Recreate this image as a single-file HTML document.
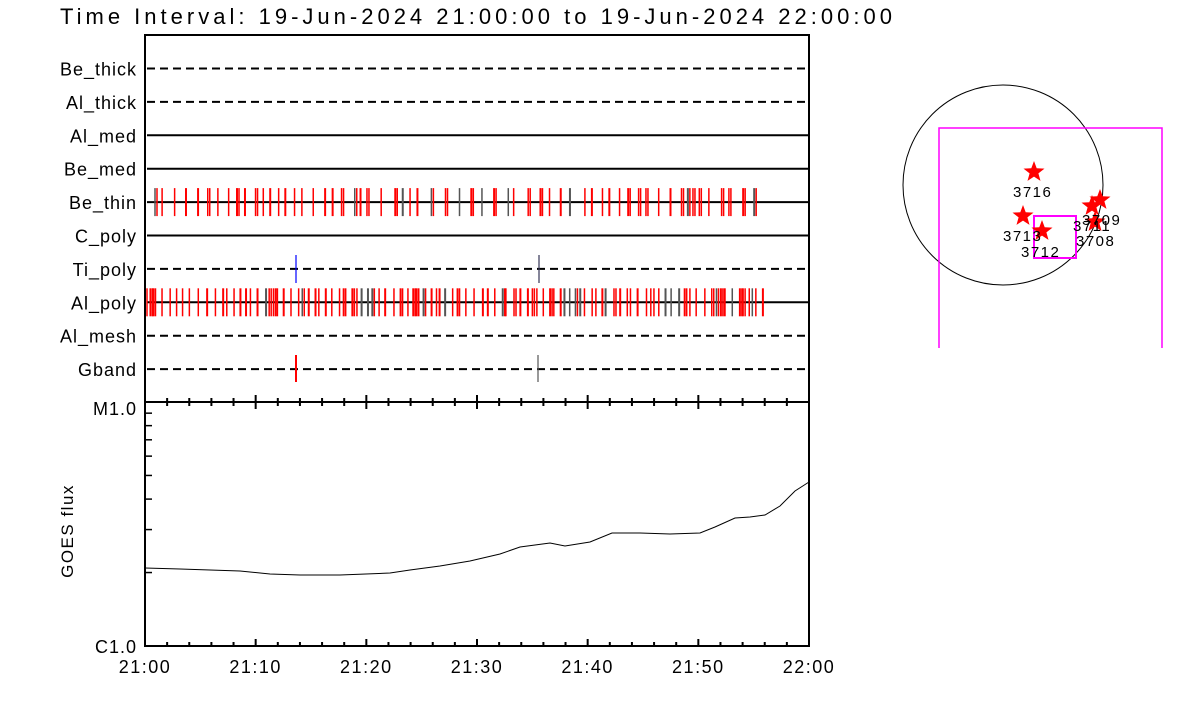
<!DOCTYPE html>
<html><head><style>
body{margin:0;background:#fff;width:1200px;height:700px;overflow:hidden}
text{font-family:"Liberation Sans",sans-serif}
</style></head><body>
<svg id="s" width="1200" height="700" xmlns="http://www.w3.org/2000/svg">
<text x="60" y="24" font-size="22" textLength="832" lengthAdjust="spacing">Time Interval: 19-Jun-2024 21:00:00 to 19-Jun-2024 22:00:00</text>
<rect x="145" y="35" width="664" height="611" fill="none" stroke="#000" stroke-width="2"/>
<line x1="145" y1="402" x2="809" y2="402" stroke="#000" stroke-width="2"/>
<g id="rows"></g>
<g id="tk"></g>
<text x="137" y="415" font-size="18" text-anchor="end" letter-spacing="1">M1.0</text>
<text x="137" y="653" font-size="18" text-anchor="end" letter-spacing="1">C1.0</text>
<text transform="translate(73,531) rotate(-90)" font-size="17" text-anchor="middle" letter-spacing="1.5">GOES flux</text>
<polyline fill="none" stroke="#000" stroke-width="1" points="145,568 180,569 240,571 270,574 300,575 340,575 390,573 410,570 440,566 470,561 500,554 520,547 550,543 565,546 590,542 612,533 640,533 670,534 700,533 715,527 735,518 750,517 765,515 780,506 795,491 809,482"/>
<circle cx="1003" cy="185" r="100" fill="none" stroke="#000" stroke-width="1"/>
<polyline points="939,348 939,128 1162,128 1162,348" fill="none" stroke="#f0f" stroke-width="1.5"/>
<rect x="1034" y="216" width="42" height="42" fill="none" stroke="#f0f" stroke-width="2"/>
<g id="map"></g>
</svg>
<script>
var s='http://www.w3.org/2000/svg';
function el(p,t,a,tx){var e=document.createElementNS(s,t);for(var k in a)e.setAttribute(k,a[k]);if(tx)e.textContent=tx;document.getElementById(p).appendChild(e);return e;}
var names=['Be_thick','Al_thick','Al_med','Be_med','Be_thin','C_poly','Ti_poly','Al_poly','Al_mesh','Gband'];
var dash=[1,1,0,0,0,0,1,0,1,1];
for(var i=0;i<10;i++){var y=68.5+i*33.4;
el('rows','text',{x:137,y:y+7,'font-size':18,'text-anchor':'end','letter-spacing':1},names[i]);
var a={x1:147,y1:y,x2:809,y2:y,stroke:'#000','stroke-width':2};if(dash[i])a['stroke-dasharray']='8,5';el('rows','line',a);}
var seed=7;function r(){seed=(seed*16807)%2147483647;return seed/2147483647;}
function bars(y,x0,x1,step,h){for(var x=x0;x<x1;x+=step*(0.5+r())){var c=r()<0.2?'#555':'red';el('rows','line',{x1:x,y1:y-h,x2:x,y2:y+h,stroke:c,'stroke-width':r()<0.4?2:1.5});if(r()<0.3){el('rows','line',{x1:x+2,y1:y-h,x2:x+2,y2:y+h,stroke:'red','stroke-width':1.5});}}}
bars(202.1,155,762,10,14);bars(302.3,147,766,6,14);
el('rows','line',{x1:296,y1:255,x2:296,y2:283,stroke:'blue','stroke-width':1.2});
el('rows','line',{x1:539,y1:255,x2:539,y2:283,stroke:'#335','stroke-width':1.2});
el('rows','line',{x1:296,y1:355,x2:296,y2:382,stroke:'red','stroke-width':2});
el('rows','line',{x1:538,y1:355,x2:538,y2:382,stroke:'#555','stroke-width':1.2});
for(var m=0;m<=30;m++){var x=145+m*664/30;var big=m%5==0;var h=big?7:4;
el('tk','line',{x1:x,y1:646-h,x2:x,y2:646,stroke:'#000','stroke-width':2});
el('tk','line',{x1:x,y1:402-h,x2:x,y2:402+h,stroke:'#000','stroke-width':2});
if(big)el('tk','text',{x:x,y:673,'font-size':18,'text-anchor':'middle','letter-spacing':1.5},(m==30?'22:00':'21:'+(m*2<10?'0':'')+(m*2)));}
for(var k=2;k<=9;k++){var y=646-244*Math.log10(k);el('tk','line',{x1:145,y1:y,x2:152,y2:y,stroke:'#000','stroke-width':1.5});}
function star(cx,cy,R){var p=[];for(var i=0;i<10;i++){var a=-Math.PI/2+i*Math.PI/5,rr=i%2?R*0.42:R;p.push((cx+rr*Math.cos(a)).toFixed(1)+','+(cy+rr*Math.sin(a)).toFixed(1));}el('map','polygon',{points:p.join(' '),fill:'red'});}
var st=[[1034,172,'3716',1013,197],[1023,216,'3713',1003,241],[1042,231,'3712',1021,257],[1100,200,'3709',1082,225],[1092,206,'3711',1073,231],[1095,222,'3708',1076,246]];
st.forEach(function(q){star(q[0],q[1],11);});
st.forEach(function(q){el('map','text',{x:q[3],y:q[4],'font-size':15,'letter-spacing':1.5},q[2]);});
</script>
</body></html>
